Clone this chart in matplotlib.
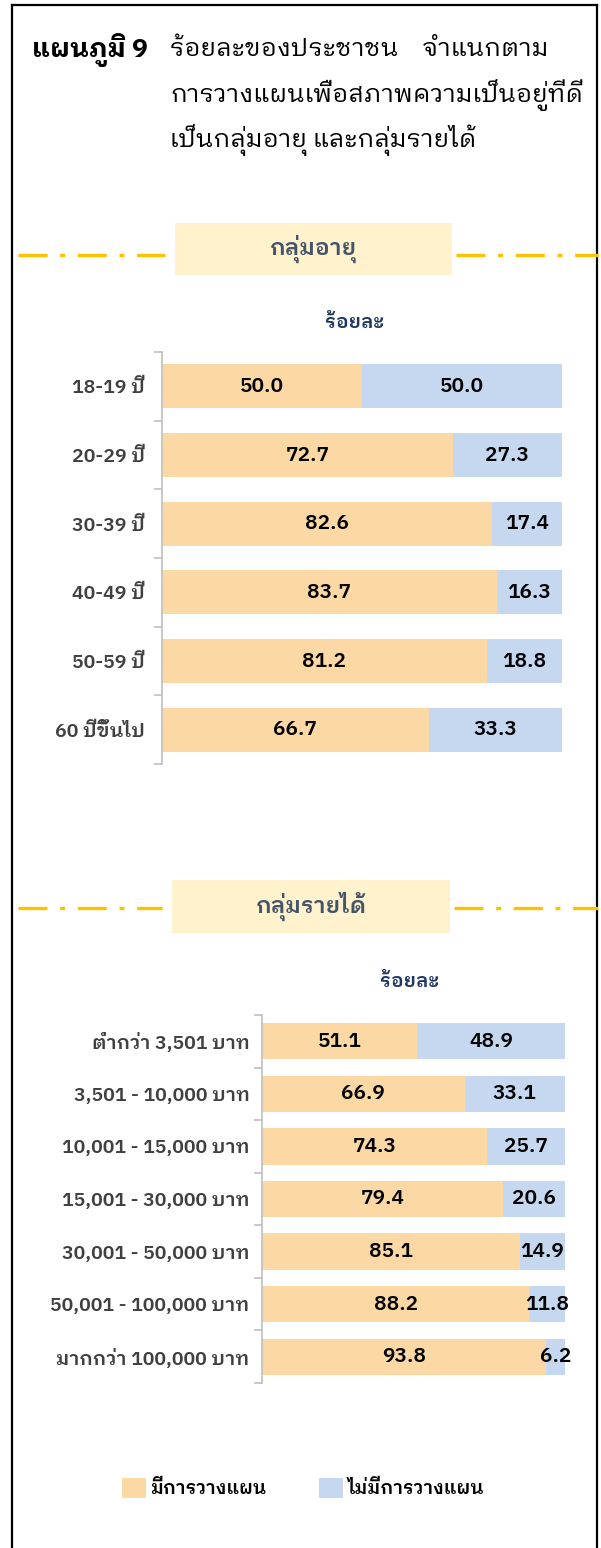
import matplotlib
matplotlib.use("Agg")
import matplotlib.pyplot as plt
from matplotlib.lines import Line2D
from matplotlib.patches import Patch, Rectangle

# ---- data ----
age_groups = ["18-19 ปี", "20-29 ปี", "30-39 ปี", "40-49 ปี", "50-59 ปี", "60 ปีขึ้นไป"]
age_plan = [50.0, 72.7, 82.6, 83.7, 81.2, 66.7]
age_noplan = [50.0, 27.3, 17.4, 16.3, 18.8, 33.3]

income_groups = ["ต่ำกว่า 3,501 บาท", "3,501 - 10,000 บาท", "10,001 - 15,000 บาท",
                 "15,001 - 30,000 บาท", "30,001 - 50,000 บาท", "50,001 - 100,000 บาท",
                 "มากกว่า 100,000 บาท"]
income_plan = [51.1, 66.9, 74.3, 79.4, 85.1, 88.2, 93.8]
income_noplan = [48.9, 33.1, 25.7, 20.6, 14.9, 11.8, 6.2]

series_names = ["มีการวางแผน", "ไม่มีการวางแผน"]
title_bold = "แผนภูมิ 9"
title_lines = ["ร้อยละของประชาชน    จำแนกตาม", "การวางแผนเพื่อสภาพความเป็นอยู่ที่ดี",
               "เป็นกลุ่มอายุ และกลุ่มรายได้"]
unit = "ร้อยละ"
section_titles = ["กลุ่มอายุ", "กลุ่มรายได้"]

ORANGE = "#FCD8A4"
BLUE = "#C6D8F0"
GOLD = "#FFC000"
SEMI = "semibold"

plt.rcParams["font.family"] = ["IBM Plex Sans Thai Looped", "Noto Sans", "DejaVu Sans"]

W, H = 601, 1548
fig = plt.figure(figsize=(W / 100, H / 100), dpi=100)


def fx(x):
    return x / W


def fy(y):
    return 1 - y / H


def axes_px(x0, y0, x1, y1):
    return fig.add_axes([fx(x0), fy(y1), fx(x1) - fx(x0), (y1 - y0) / H])


# border (no bottom edge)
for xs, ys in [([12, 12], [5, H]), ([12, 597], [5, 5]), ([597, 597], [5, H])]:
    fig.add_artist(Line2D([fx(v) for v in xs], [fy(v) for v in ys], color="black", lw=1.6))

# title
fig.text(fx(32), fy(50), title_bold, fontsize=19, fontweight="bold", va="center", ha="left")
for i, line in enumerate(title_lines):
    fig.text(fx(170), fy(50 + 45 * i), line, fontsize=18.2, va="center", ha="left")


def section_header(text, yline, box):
    x0, x1, y0, y1 = box
    for a, b in [(18, x0 - 10), (x1 + 4, 598)]:
        fig.add_artist(Line2D([fx(a), fx(b)], [fy(yline), fy(yline)], color=GOLD, lw=2.4,
                              dashes=(8.7, 3.8, 1.5, 3.8)))
    fig.add_artist(Rectangle((fx(x0), fy(y1)), fx(x1) - fx(x0), (y1 - y0) / H,
                             transform=fig.transFigure, color="#FFF2CC", lw=0))
    fig.text(fx((x0 + x1) / 2), fy((y0 + y1) / 2), text, fontsize=16.5, fontweight=SEMI,
             color="#44546A", ha="center", va="center")


def stacked(ax, cats, plan, noplan, height, pad, fs):
    y = list(range(len(cats)))
    ax.barh(y, plan, height=height, color=ORANGE, lw=0)
    ax.barh(y, noplan, left=plan, height=height, color=BLUE, lw=0)
    for i in y:
        ax.text(plan[i] / 2, i, f"{plan[i]:.1f}", ha="center", va="center",
                fontsize=fs, fontweight=SEMI, color="black")
        ax.text(plan[i] + noplan[i] / 2, i, f"{noplan[i]:.1f}", ha="center", va="center",
                fontsize=fs, fontweight=SEMI, color="black")
    ax.set_xlim(0, 100)
    ax.set_ylim(len(cats) - 0.5, -0.5)
    ax.set_yticks(y)
    ax.set_yticklabels(cats, fontsize=14, fontweight=SEMI, color="#404040")
    ax.set_yticks([i - 0.5 for i in range(len(cats) + 1)], minor=True)
    ax.tick_params(axis="y", which="major", length=0, pad=pad)
    ax.tick_params(axis="y", which="minor", length=6, color="#BFBFBF", width=1.2)
    ax.set_xticks([])
    for s in ["top", "right", "bottom"]:
        ax.spines[s].set_visible(False)
    ax.spines["left"].set_color("#BFBFBF")
    ax.spines["left"].set_linewidth(1.2)
    ax.patch.set_alpha(0)


# age section
section_header(section_titles[0], 255, (175, 452, 223, 275))
fig.text(fx(355), fy(323), unit, fontsize=14, fontweight=SEMI, color="#1F3864",
         ha="center", va="center")
ax1 = axes_px(162, 352, 562, 764)
stacked(ax1, age_groups, age_plan, age_noplan, 0.64, 12, 15)

# income section
section_header(section_titles[1], 908, (172, 450, 880, 933))
fig.text(fx(410), fy(982), unit, fontsize=14, fontweight=SEMI, color="#1F3864",
         ha="center", va="center")
ax2 = axes_px(262, 1015, 565, 1383)
stacked(ax2, income_groups, income_plan, income_noplan, 0.69, 9, 15)

handles = [Patch(color=ORANGE, lw=0), Patch(color=BLUE, lw=0)]
fig.legend(handles, series_names, loc="center", bbox_to_anchor=(fx(303), fy(1488)), ncol=2,
           frameon=False, handlelength=1.25, handleheight=1.25, handletextpad=0.25,
           columnspacing=2.8, prop={"size": 13.5, "weight": SEMI})

fig.savefig("out.png", dpi=100)
